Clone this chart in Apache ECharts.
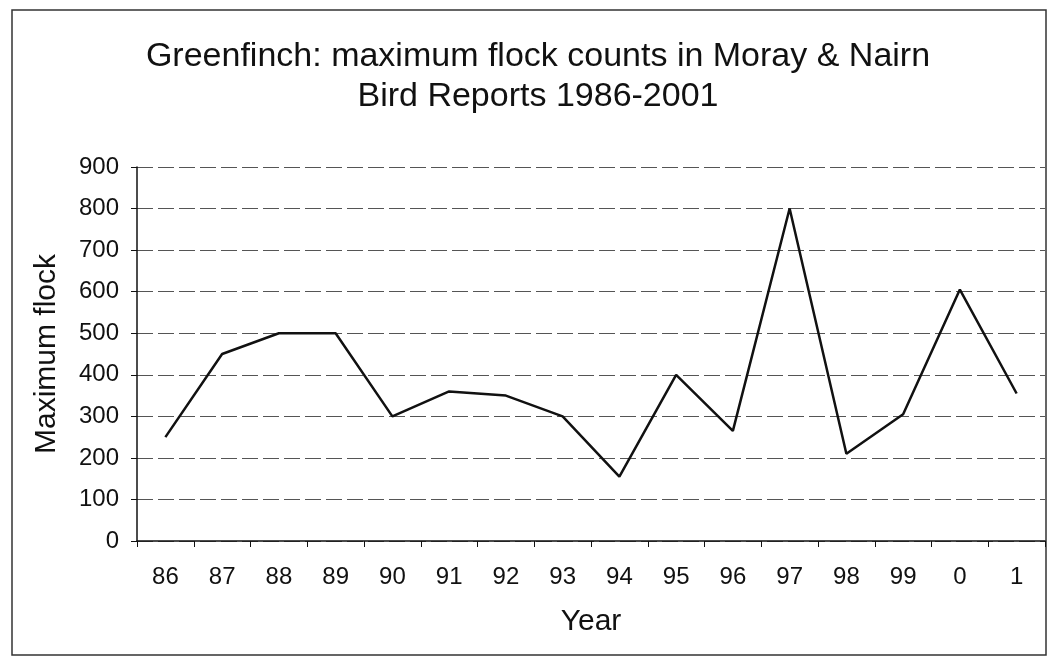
<!DOCTYPE html>
<html>
<head>
<meta charset="utf-8">
<script src="https://cdn.jsdelivr.net/npm/echarts@6/dist/echarts.min.js"></script>
<style>
  html, body { margin: 0; padding: 0; background: #fff; }
  #chart { width: 1048px; height: 658px; }
</style>
</head>
<body>
<div id="chart"></div>
<script>
// years as printed on the axis
const years = ['86', '87', '88', '89', '90', '91', '92', '93', '94', '95', '96', '97', '98', '99', '0', '1']
// maximum flock per year
const maxFlock = [250, 450, 500, 500, 300, 360, 350, 300, 155, 400, 265, 800, 210, 305, 605, 355]
const titleLines = ['Greenfinch: maximum flock counts in Moray & Nairn', 'Bird Reports 1986-2001']

const font = 'Liberation Sans, Arial, sans-serif'
const chart = echarts.init(document.getElementById('chart'))

const option = {
    backgroundColor: '#fff',
    animation: false,
    title: {
        text: titleLines.join('\n'),
        left: 533,
        textAlign: 'center',
        top: 32,
        textStyle: {
            fontFamily: font,
            fontSize: 34,
            fontWeight: 'normal',
            color: '#111',
            lineHeight: 40
        }
    },
    grid: {
        left: 137,
        right: 3,
        top: 167,
        bottom: 117
    },
    xAxis: {
        type: 'category',
        data: years,
        boundaryGap: true,
        name: 'Year',
        nameLocation: 'middle',
        nameGap: 66,
        nameTextStyle: { fontFamily: font, fontSize: 30, color: '#111' },
        axisLine: { lineStyle: { color: '#111', width: 1.5 } },
        axisTick: { show: true, length: 6, lineStyle: { color: '#111' } },
        axisLabel: { fontFamily: font, fontSize: 24, color: '#111', margin: 24 }
    },
    yAxis: {
        type: 'value',
        min: 0,
        max: 900,
        interval: 100,
        name: 'Maximum flock',
        nameLocation: 'middle',
        nameGap: 75,
        nameTextStyle: { fontFamily: font, fontSize: 30, color: '#111' },
        axisLine: { show: true, lineStyle: { color: '#111', width: 1.5 } },
        axisTick: { show: true, length: 6, lineStyle: { color: '#111' } },
        axisLabel: { fontFamily: font, fontSize: 24, color: '#111', margin: 18 },
        splitLine: { lineStyle: { color: '#555', width: 1, type: [16, 5] } }
    },
    series: [{
        type: 'line',
        data: maxFlock,
        symbol: 'none',
        lineStyle: { color: '#111', width: 2.5 }
    }],
    graphic: [{
        type: 'rect',
        shape: { x: 12, y: 10, width: 1034, height: 645 },
        style: { fill: 'none', stroke: '#333', lineWidth: 1.5 },
        silent: true
    }]
}

chart.setOption(option)
</script>
</body>
</html>
